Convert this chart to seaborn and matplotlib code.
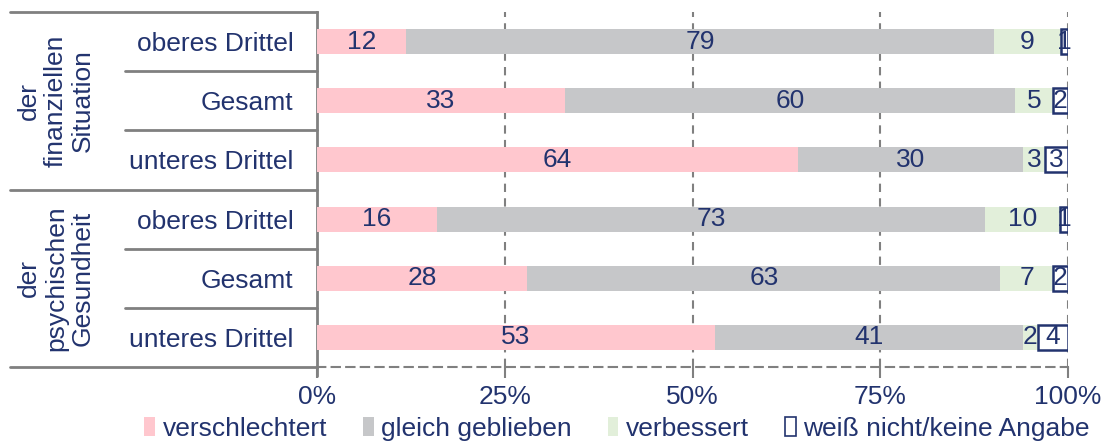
import numpy as np
import pandas as pd
import matplotlib
matplotlib.use('Agg')
import matplotlib.pyplot as plt
import matplotlib.transforms as mtransforms
from matplotlib.patches import Patch
import seaborn as sns

# data
rows = ['oberes Drittel', 'Gesamt', 'unteres Drittel',
        'oberes Drittel', 'Gesamt', 'unteres Drittel']
groups = ['der\nfinanziellen\nSituation', 'der\npsychischen\nGesundheit']
verschlechtert = [12, 33, 64, 16, 28, 53]
gleich = [79, 60, 30, 73, 63, 41]
verbessert = [9, 5, 3, 10, 7, 2]
weiss_nicht = [1, 2, 3, 1, 2, 4]
series_names = ['verschlechtert', 'gleich geblieben', 'verbessert',
                'weiß nicht/keine Angabe']
xticks = [0, 25, 50, 75, 100]

navy = '#22336E'
grey_line = '#808080'
colors = ['#FFC7CE', '#C6C7C9', '#E2EFDA', 'white']

sns.set_theme(style='white')
plt.rcParams['font.family'] = ['Liberation Sans', 'DejaVu Sans']
fs = 19

ids = [f'r{i}' for i in range(len(rows))]
df = pd.DataFrame({'id': ids, 'v1': verschlechtert, 'v2': gleich,
                   'v3': verbessert, 'v4': weiss_nicht})
# rounded values don't always add to 100 -> scale bars to the row total
totals = df[['v1', 'v2', 'v3', 'v4']].sum(axis=1).to_numpy()
for col in ['v1', 'v2', 'v3', 'v4']:
    df[col + '_pct'] = df[col] / totals * 100

fig = plt.figure(figsize=(11.12, 4.41), dpi=100)
ax = fig.add_axes([317 / 1112, 1 - 367 / 441, 751 / 1112, 355 / 441])

left = np.zeros(len(rows))
for col, c in zip(['v1', 'v2', 'v3', 'v4'], colors):
    n_before = len(ax.patches)
    sns.barplot(data=df, y='id', x=col + '_pct', order=ids, orient='h',
                color=c, width=0.42, ax=ax, saturation=1, zorder=3,
                edgecolor=navy if c == 'white' else 'none',
                linewidth=1.8 if c == 'white' else 0)
    new = ax.patches[n_before:]
    widths = df[col + '_pct'].to_numpy()
    for p, l, w, v in zip(new, left, widths, df[col]):
        p.set_x(l)
        ax.text(l + w / 2, p.get_y() + p.get_height() / 2, str(v),
                ha='center', va='center', color=navy, fontsize=fs, zorder=5)
    left = left + widths

ax.set_xlim(0, 100)
ax.set_ylim(5.5, -0.5)
ax.set_xlabel('')
ax.set_ylabel('')
ax.set_xticks(xticks)
ax.set_xticklabels([f'{t}%' for t in xticks], color=navy, fontsize=fs)
ax.set_yticks(range(len(rows)))
ax.set_yticklabels(rows, color=navy, fontsize=fs)
ax.tick_params(axis='y', length=0, pad=17)
ax.tick_params(axis='x', length=8, width=1.5, color=grey_line, pad=5,
               direction='out', bottom=True)

for x in xticks[1:]:
    ax.axvline(x, color=grey_line, linestyle=(0, (4, 3)), linewidth=1.5,
               zorder=1)

for s in ['top', 'right']:
    ax.spines[s].set_visible(False)
ax.spines['left'].set_color(grey_line)
ax.spines['left'].set_linewidth(2)
ax.spines['bottom'].set_color(grey_line)
ax.spines['bottom'].set_linewidth(1.5)
ax.spines['bottom'].set_linestyle((0, (4, 3)))

# left table lines
trans = mtransforms.blended_transform_factory(ax.transAxes, ax.transData)
x_far = (10 - 317) / 751
x_mid = (125 - 317) / 751
for yb in [-0.5, 2.5, 5.5]:
    ax.plot([x_far, 0], [yb, yb], color=grey_line, lw=2, transform=trans,
            clip_on=False)
for yb in [0.5, 1.5, 3.5, 4.5]:
    ax.plot([x_mid, 0], [yb, yb], color=grey_line, lw=2, transform=trans,
            clip_on=False)
ax.plot([0, 0], [5.5, 5.65], color=grey_line, lw=2, transform=trans,
        clip_on=False)

x_grp = (56 - 317) / 751
for gi, g in enumerate(groups):
    ax.text(x_grp, 1 + gi * 3, g, rotation=90, ha='center', va='center',
            multialignment='center', color=navy, fontsize=fs,
            linespacing=1.15, transform=trans)

handles = [Patch(facecolor=c, edgecolor=navy if c == 'white' else 'none',
                 linewidth=1.2 if c == 'white' else 0) for c in colors]
leg = fig.legend(handles, series_names, loc='center', ncol=4,
                 bbox_to_anchor=(0.555, 0.028), frameon=False, fontsize=fs,
                 handlelength=0.4, handleheight=0.7, handletextpad=0.3,
                 columnspacing=1.35, borderpad=0)
for t in leg.get_texts():
    t.set_color(navy)

fig.savefig('out.png', dpi=100)
